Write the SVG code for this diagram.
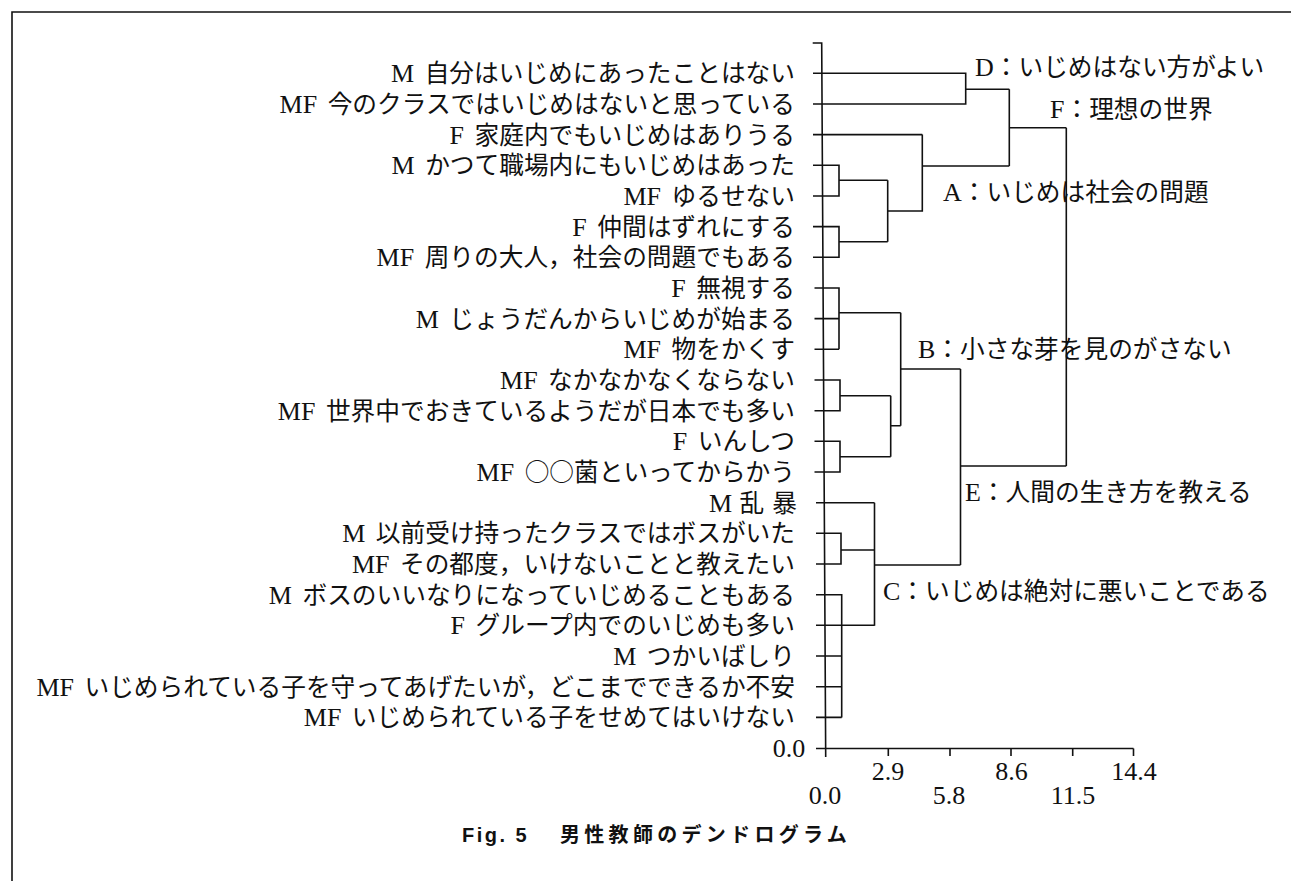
<svg xmlns="http://www.w3.org/2000/svg" width="1291" height="881" viewBox="0 0 1291 881">
<style>
.lf{font-family:"Liberation Serif","Noto Sans CJK JP",serif;font-size:24.7px;fill:#111;text-anchor:end}
.lf .p{font-size:26px}
.cl{font-family:"Liberation Serif","Noto Sans CJK JP",serif;font-size:24.7px;fill:#111}
.cl .p{font-size:26px}
.cj{font-family:"Noto Sans CJK JP",sans-serif}
.ax{font-family:"Liberation Serif",serif;font-size:26px;fill:#111;text-anchor:middle}
.ln{fill:none;stroke:#111;stroke-width:1.6}
.cap{font-family:"Liberation Sans","Noto Sans CJK JP",sans-serif;font-size:20px;font-weight:bold;fill:#111}
</style>
<rect width="1291" height="881" fill="#fff"/>
<path class="ln" d="M12,881 V12 H1291" stroke-width="1.4"/>
<g id="labels">
<text class="lf" x="795" y="82.3"><tspan class="p">M </tspan><tspan dx="4">自分はいじめにあったことはない</tspan></text>
<text class="lf" x="795" y="113"><tspan class="p">MF </tspan><tspan dx="4">今のクラスではいじめはないと思っている</tspan></text>
<text class="lf" x="795" y="143.6"><tspan class="p">F </tspan><tspan dx="4">家庭内でもいじめはありうる</tspan></text>
<text class="lf" x="795" y="174.3"><tspan class="p">M </tspan><tspan dx="4">かつて職場内にもいじめはあった</tspan></text>
<text class="lf" x="795" y="205"><tspan class="p">MF </tspan><tspan dx="4">ゆるせない</tspan></text>
<text class="lf" x="795" y="235.6"><tspan class="p">F </tspan><tspan dx="4">仲間はずれにする</tspan></text>
<text class="lf" x="795" y="266.3"><tspan class="p">MF </tspan><tspan dx="4">周りの大人，社会の問題でもある</tspan></text>
<text class="lf" x="795" y="297"><tspan class="p">F </tspan><tspan dx="4">無視する</tspan></text>
<text class="lf" x="795" y="327.6"><tspan class="p">M </tspan><tspan dx="4">じょうだんからいじめが始まる</tspan></text>
<text class="lf" x="795" y="358.3"><tspan class="p">MF </tspan><tspan dx="4">物をかくす</tspan></text>
<text class="lf" x="795" y="389"><tspan class="p">MF </tspan><tspan dx="4">なかなかなくならない</tspan></text>
<text class="lf" x="795" y="419.7"><tspan class="p">MF </tspan><tspan dx="4">世界中でおきているようだが日本でも多い</tspan></text>
<text class="lf" x="795" y="450.3"><tspan class="p">F </tspan><tspan dx="4">いんしつ</tspan></text>
<text class="lf" x="795" y="481"><tspan class="p">MF </tspan><tspan dx="4" class="cj">○○</tspan><tspan>菌といってからかう</tspan></text>
<text class="lf" x="797" y="511.7"><tspan class="p">M </tspan><tspan dx="1">乱</tspan><tspan dx="8">暴</tspan></text>
<text class="lf" x="795" y="542.3"><tspan class="p">M </tspan><tspan dx="4">以前受け持ったクラスではボスがいた</tspan></text>
<text class="lf" x="795" y="573"><tspan class="p">MF </tspan><tspan dx="4">その都度，いけないことと教えたい</tspan></text>
<text class="lf" x="795" y="603.7"><tspan class="p">M </tspan><tspan dx="4">ボスのいいなりになっていじめることもある</tspan></text>
<text class="lf" x="795" y="634.3"><tspan class="p">F </tspan><tspan dx="4">グループ内でのいじめも多い</tspan></text>
<text class="lf" x="795" y="665"><tspan class="p">M </tspan><tspan dx="4">つかいばしり</tspan></text>
<text class="lf" x="795" y="695.7"><tspan class="p">MF </tspan><tspan dx="4">いじめられている子を守ってあげたいが，どこまでできるか不安</tspan></text>
<text class="lf" x="795" y="726.4"><tspan class="p">MF </tspan><tspan dx="4">いじめられている子をせめてはいけない</tspan></text>
</g>
<g id="axis">
<path class="ln" d="M812.7,43 H821.7 L825.7,757 M816,748.5 H1133.5 M888.3,748.5 V756 M950,748.5 V756 M1011,748.5 V756 M1072.7,748.5 V756 M1133.5,748.5 V756"/>
<text class="ax" x="789" y="757">0.0</text>
<text class="ax" x="888" y="780">2.9</text>
<text class="ax" x="1011.5" y="780">8.6</text>
<text class="ax" x="1134" y="780">14.4</text>
<text class="ax" x="825" y="804">0.0</text>
<text class="ax" x="949" y="804">5.8</text>
<text class="ax" x="1073" y="804">11.5</text>
</g>
<g id="connectors">
<path class="ln" d="M813,73.3 H965.7 V104 H813 M965.7,89.3 H1009.3
M813,134.6 H922.3
M813,165.3 H839 V196 H813 M839,180.3 H887.7
M813,226.6 H839 V257.3 H813 M839,241.7 H887.7
M887.7,180.3 V241.7 M887.7,211 H922.3
M922.3,134.6 V211.7 M922.3,166 H1009.3
M1009.3,89.3 V166 M1009.3,127.7 H1066.3
M814.5,288 H839 V349.3 M814.5,318.6 H839 M814.5,349.3 H839 M839,312.7 H900.7
M814.5,380 H840 V410.7 H814.5 M840,395.7 H890.7
M814.5,441.3 H840 V472 H814.5 M840,456.7 H890.7
M890.7,395.7 V456.7 M890.7,425.7 H900.7
M900.7,312.7 V425.7 M900.7,369 H960.5
M816,502.7 H874.5
M816,533.3 H841 V564 H816 M841,550 H874.5
M816,594.7 H841.7 V717.4 M816,625.3 H874.5 M816,656 H841.7 M816,686.7 H841.7 M816,717.4 H841.7
M874.5,502.7 V625.7 M874.5,565 H960.5
M960.5,369 V565 M960.5,466 H1066.3
M1066.3,127.7 V466"/>
</g>
<g id="clusters">
<text class="cl" x="975" y="76"><tspan class="p">D</tspan>：いじめはない方がよい</text>
<text class="cl" x="1050" y="118"><tspan class="p">F</tspan>：理想の世界</text>
<text class="cl" x="943" y="201"><tspan class="p">A</tspan>：いじめは社会の問題</text>
<text class="cl" x="918" y="358"><tspan class="p">B</tspan>：小さな芽を見のがさない</text>
<text class="cl" x="965" y="501"><tspan class="p">E</tspan>：人間の生き方を教える</text>
<text class="cl" x="883" y="600"><tspan class="p">C</tspan>：いじめは絶対に悪いことである</text>
</g>
<g id="caption">
<text class="cap" y="842"><tspan x="462" letter-spacing="2.5">Fig. 5</tspan><tspan x="560" letter-spacing="4.3">男性教師のデンドログラム</tspan></text>
</g>
</svg>
